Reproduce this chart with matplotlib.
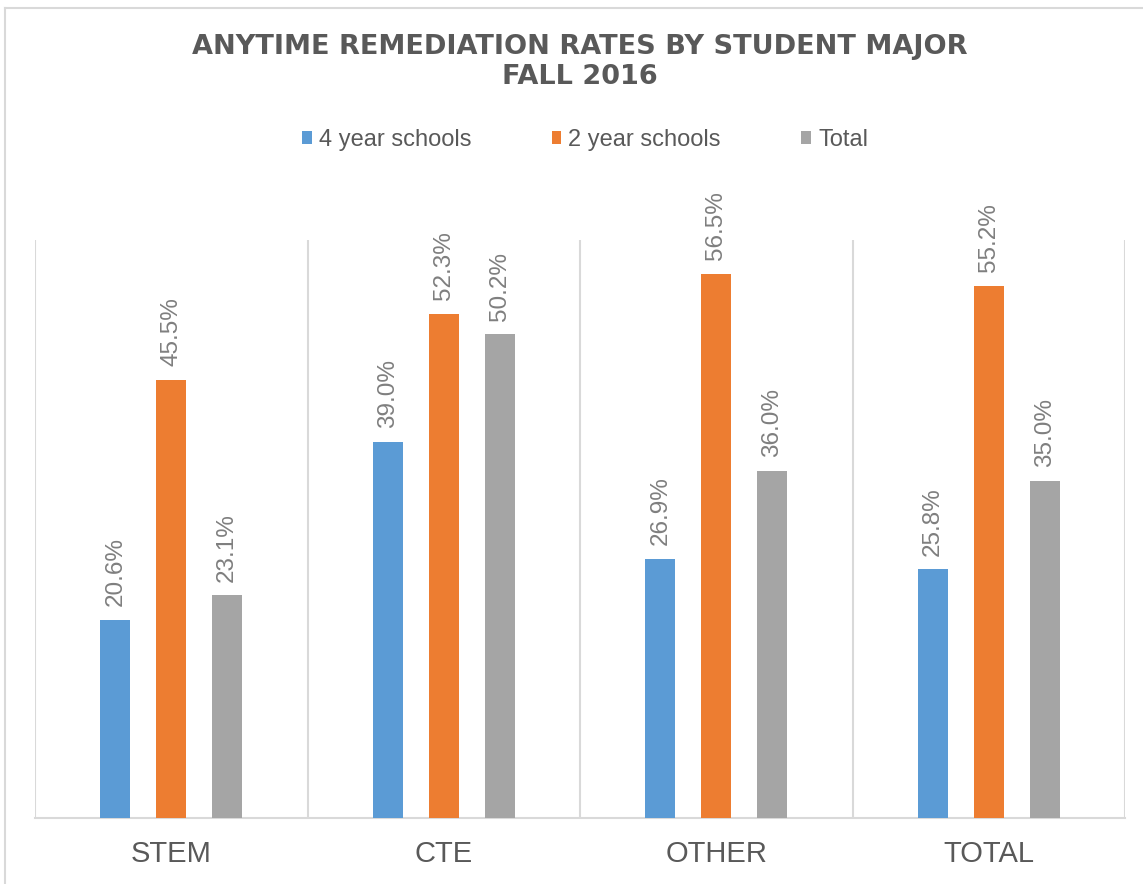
import matplotlib
matplotlib.use("Agg")
import matplotlib.pyplot as plt
import numpy as np
from matplotlib.lines import Line2D

categories = ["STEM", "CTE", "OTHER", "TOTAL"]
series_names = ["4 year schools", "2 year schools", "Total"]
four_year = [20.6, 39.0, 26.9, 25.8]
two_year = [45.5, 52.3, 56.5, 55.2]
total = [23.1, 50.2, 36.0, 35.0]
colors = ["#5B9BD5", "#ED7D31", "#A5A5A5"]

title_lines = ["ANYTIME REMEDIATION RATES BY STUDENT MAJOR", "FALL 2016"]

W, H = 1143, 884
fig = plt.figure(figsize=(W / 100, H / 100), dpi=100)
fig.patch.set_facecolor("white")

# chart border (left and top)
fig.add_artist(Line2D([5 / W, 5 / W], [0, 1 - 8 / H], transform=fig.transFigure, color="#D9D9D9", lw=1.5))
fig.add_artist(Line2D([5 / W, 1], [1 - 8 / H, 1 - 8 / H], transform=fig.transFigure, color="#D9D9D9", lw=1.5))

ax = fig.add_axes([35 / W, (H - 818) / H, 1090 / W, 578 / H])
ax.set_xlim(-0.5, len(categories) - 0.5)
ax.set_ylim(0, 60)

x = np.arange(len(categories))
offsets = [-0.205, 0.0, 0.205]
width = 0.11
font = "Liberation Sans"
for vals, off, col, name in zip([four_year, two_year, total], offsets, colors, series_names):
    ax.bar(x + off, vals, width, color=col, label=name, zorder=3)
    for xi, v in zip(x + off, vals):
        ax.annotate(f"{v:.1f}%", (xi, v), xytext=(0, 10), textcoords="offset points",
                    rotation=90, ha="center", va="bottom", fontsize=17.5,
                    color="#7F7F7F", family=font)

# separators
for b in np.arange(-0.5, len(categories), 1.0):
    ax.axvline(b, color="#D9D9D9", lw=1.5, zorder=1)

for s in ["top", "right", "left"]:
    ax.spines[s].set_visible(False)
ax.spines["bottom"].set_color("#D9D9D9")
ax.spines["bottom"].set_linewidth(1.5)
ax.set_yticks([])
ax.set_xticks(x)
ax.set_xticklabels(categories, fontsize=21, color="#595959", family=font)
ax.tick_params(axis="x", length=0, pad=16)

fig.text(580 / W, 1 - 47 / H, title_lines[0], ha="center", va="center", fontsize=19.5,
         fontweight="bold", color="#595959", family="DejaVu Sans")
fig.text(580 / W, 1 - 77 / H, title_lines[1], ha="center", va="center", fontsize=19.5,
         fontweight="bold", color="#595959", family="DejaVu Sans")

fig.legend(loc="center", bbox_to_anchor=(585 / W, 1 - 140 / H), ncol=3, frameon=False,
           prop={"family": font, "size": 17}, labelcolor="#595959",
           handlelength=0.42, handleheight=0.42, handletextpad=0.3, columnspacing=3.4)

fig.savefig("out.png", dpi=100, facecolor="white")
